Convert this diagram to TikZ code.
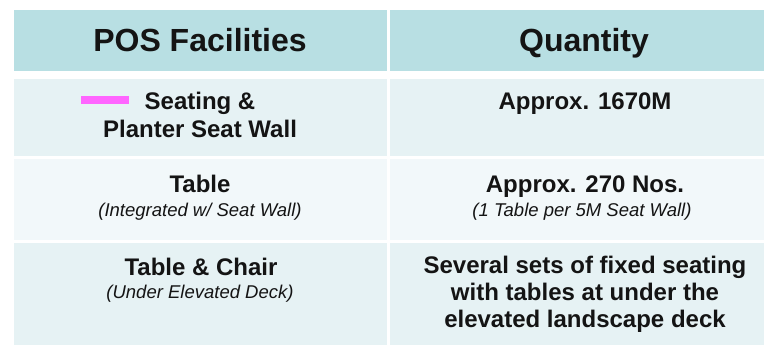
\documentclass[tikz,border=0pt]{standalone}
\usepackage{fontspec}
\setmainfont{Liberation Sans}

\definecolor{headfill}{HTML}{B8DFE3}
\definecolor{rowdark}{HTML}{E6F2F4}
\definecolor{rowlight}{HTML}{F2F8FA}
\definecolor{legendpink}{HTML}{FF66FF}
\definecolor{inktext}{HTML}{141414}

\begin{document}
\begin{tikzpicture}[x=1pt,y=-1pt]

      \useasboundingbox (0,0) rectangle (764,345);

      % cell backgrounds
      \fill[headfill]  (14,10)  rectangle (387,71);
      \fill[headfill]  (390,10) rectangle (764,71);
      \fill[rowdark]   (14,79)  rectangle (387,156);
      \fill[rowdark]   (390,79) rectangle (764,156);
      \fill[rowlight]  (14,159) rectangle (387,240);
      \fill[rowlight]  (390,159) rectangle (764,240);
      \fill[rowdark]   (14,243) rectangle (387,345);
      \fill[rowdark]   (390,243) rectangle (764,345);

      % legend swatch
      \fill[legendpink] (81,96) rectangle (129,104);

      \begin{scope}[every node/.style={anchor=base, align=center, inner sep=0pt, text=inktext}]

        \begin{scope}[every node/.append style={font=\fontsize{32}{38}\selectfont\bfseries}]
          \node (hfac) at (200,52) {POS Facilities};
          \node (hqty) at (584,52) {Quantity};
        \end{scope}

        \begin{scope}[every node/.append style={font=\fontsize{24}{28}\selectfont\bfseries}]
          \node (f1) at (200,110) {Seating \&};
          \node (f1b) at (200,138) {Planter Seat Wall};
          \node (q1) at (585,110) {Approx. 1670M};
          \node (f2) at (200,192) {Table};
          \node (q2) at (585,192) {Approx. 270 Nos.};
          \node (f3) at (201,275) {Table \& Chair};
          \node (q3) at (585,273) {Several sets of fixed seating};
          \node (q3b) at (585,300) {with tables at under the};
          \node (q3c) at (585,327) {elevated landscape deck};
        \end{scope}

        \begin{scope}[every node/.append style={font=\fontsize{18.5}{22}\selectfont\itshape}]
          \node (n2) at (200,216) {(Integrated w/ Seat Wall)};
          \node (m2) at (582,216) {(1 Table per 5M Seat Wall)};
          \node (n3) at (200,298) {(Under Elevated Deck)};
        \end{scope}
      \end{scope}

    \end{tikzpicture}
\end{document}
